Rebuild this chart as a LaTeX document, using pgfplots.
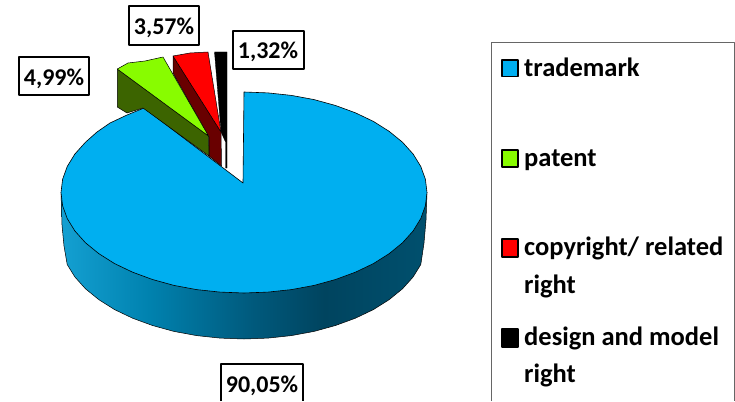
\documentclass[border=0pt]{standalone}
\usepackage{pgfplots}
\pgfplotsset{compat=1.18}
\usepackage{fontspec}
\setmainfont{Carlito}
\definecolor{blu}{RGB}{0,175,240}
\definecolor{grn}{RGB}{136,252,0}
\definecolor{dgrn}{RGB}{60,100,0}
\definecolor{drd}{RGB}{105,0,0}
\definecolor{rd}{RGB}{255,0,0}
\definecolor{sa}{RGB}{20,160,210}
\definecolor{sb}{RGB}{0,130,175}
\definecolor{sc}{RGB}{0,90,125}
\definecolor{sd}{RGB}{0,68,95}
\definecolor{se}{RGB}{0,80,110}
\pgfdeclarehorizontalshading{pieside}{100bp}{color(0bp)=(sa); color(25bp)=(sa); color(37bp)=(sb); color(51bp)=(sc); color(61bp)=(sd); color(75bp)=(se); color(100bp)=(se)}
\newcommand{\lab}[1]{\fontsize{24}{24}\selectfont\bfseries #1}
\newcommand{\leg}[1]{\fontsize{26.5}{26.5}\selectfont\bfseries #1}
\begin{document}
\begin{tikzpicture}
\begin{axis}[
  scale only axis, width=735pt, height=401pt,
  xmin=0, xmax=735, ymin=0, ymax=401, y dir=reverse,
  hide axis, no markers, clip=true,
  every axis plot/.append style={line join=round},
]
% page background
\addplot[fill=white, draw=white, line width=0pt] coordinates {(0,0)(735,0)(735,401)(0,401)} -- cycle;
% side of the disc
\addplot[shade, shading=pieside, draw=black, line width=0.5pt] coordinates {
(61,192.5)(62,225)(64,246)(67.2,264.5)(74.9,277)(85.5,288.8)(98.9,299.7)(114.6,309.6)(132.6,318.2)(152.5,325.5)(173.9,331.4)(196.6,335.6)(220,338.1)(244,339)(268,338.1)(291.4,335.6)(314.1,331.4)(335.5,325.5)(355.4,318.2)(373.4,309.6)(389.1,299.7)(402.5,288.8)(413.1,277)(420.8,264.5)(424,243)(426,220)(427,192.5)
} -- cycle;
% top of the trademark slice
\addplot[fill=blu, draw=black, line width=0.6pt] coordinates {
(244,92)(268,92.9)(291.4,95.4)(314.1,99.6)(335.5,105.5)(355.4,112.8)(373.4,121.4)(389.1,131.3)(402.5,142.2)(413.1,154)(420.8,166.5)(425.4,179.3)(427,192.5)(425.4,205.7)(420.8,218.5)(413.1,231)(402.5,242.8)(389.1,253.7)(373.4,263.6)(355.4,272.2)(335.5,279.5)(314.1,285.4)(291.4,289.6)(268,292.1)(244,293)(220,292.1)(196.6,289.6)(173.9,285.4)(152.5,279.5)(132.6,272.2)(114.6,263.6)(98.9,253.7)(85.5,242.8)(74.9,231)(67.2,218.5)(62.6,205.7)(61,192.5)(62.6,179.3)(67.2,166.5)(74.9,154)(85.5,142.2)(97,132)(110,123)(127,115)(144,108)(243,183)
} -- cycle;
% black slice
\addplot[fill=black, draw=black, line width=0.3pt] coordinates {(214.5,52)(227,52)(227,168)(225.5,168)(225.5,142)(221,132)} -- cycle;
% red slice
\addplot[fill=drd, draw=black, line width=0.5pt] coordinates {(173,56)(221,132)(221.5,166)(209,156)(209,137)(173,73)} -- cycle;
\addplot[fill=rd, draw=black, line width=0.5pt] coordinates {(173,56)(190,53)(208,52)(221,132)} -- cycle;
% green slice
\addplot[fill=dgrn, draw=black, line width=0.5pt] coordinates {(117.3,69)(208.5,136)(209,156)(143,108)(127,113)(117.3,107)} -- cycle;
\addplot[fill=grn, draw=black, line width=0.5pt] coordinates {(117.3,69)(128,63)(145,61)(163,57)(208.5,136)} -- cycle;
% label boxes
\addplot[fill=white, draw=black, line width=1.1pt] coordinates {(19,57)(89,57)(89,95)(19,95)} -- cycle;
\addplot[fill=white, draw=black, line width=1.1pt] coordinates {(129,6)(199,6)(199,45)(129,45)} -- cycle;
\addplot[fill=white, draw=black, line width=1.3pt] coordinates {(233,31)(304,31)(304,69)(233,69)} -- cycle;
\addplot[draw=black, line width=1.1pt] coordinates {(221,401)(221,364)(303,364)(303,401)};
% legend box
\addplot[draw=black!60, line width=0.9pt] coordinates {(491.5,401)(491.5,42)(734.5,42)(734.5,401)};
% legend keys
\addplot[fill=blu, draw=black, line width=1.3pt] coordinates {(502,60)(518,60)(518,76.5)(502,76.5)} -- cycle;
\addplot[fill=grn, draw=black, line width=1.3pt] coordinates {(502,150)(518,150)(518,167)(502,167)} -- cycle;
\addplot[fill=rd, draw=black, line width=1.3pt] coordinates {(502,239)(518,239)(518,257)(502,257)} -- cycle;
\addplot[fill=black, draw=black, line width=1.3pt] coordinates {(502,329)(518,329)(518,347)(502,347)} -- cycle;
% texts
\node[anchor=base] at (axis cs:54,85) {\lab{4,99\%}};
\node[anchor=base] at (axis cs:164,35) {\lab{3,57\%}};
\node[anchor=base] at (axis cs:268,59) {\lab{1,32\%}};
\node[anchor=base] at (axis cs:262,392) {\lab{90,05\%}};
\node[anchor=base west, inner sep=0pt] at (axis cs:524,77) {\leg{trademark}};
\node[anchor=base west, inner sep=0pt] at (axis cs:524,166) {\leg{patent}};
\node[anchor=base west, inner sep=0pt] at (axis cs:524,255) {\leg{copyright/ related}};
\node[anchor=base west, inner sep=0pt] at (axis cs:524,293) {\leg{right}};
\node[anchor=base west, inner sep=0pt] at (axis cs:524,345) {\leg{design and model}};
\node[anchor=base west, inner sep=0pt] at (axis cs:524,382) {\leg{right}};
\end{axis}
\end{tikzpicture}
\end{document}
